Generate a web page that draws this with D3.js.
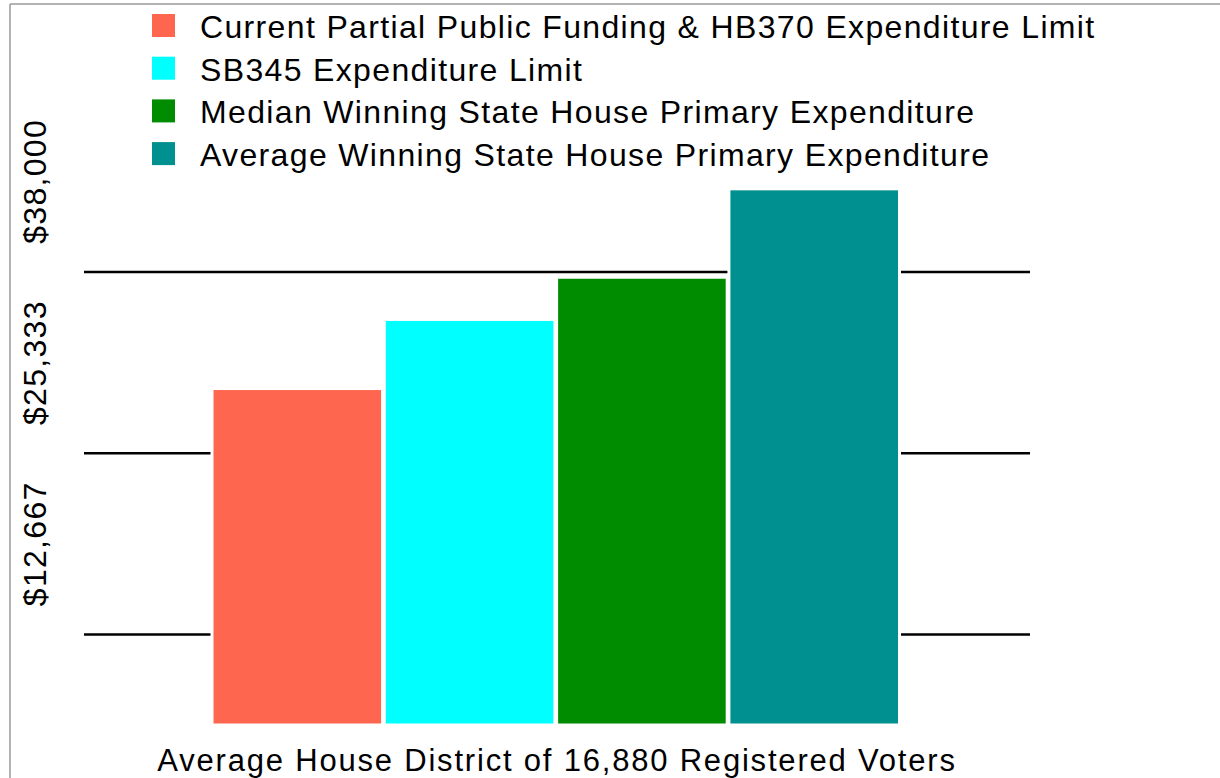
<!DOCTYPE html>
<html>
<head>
<meta charset="utf-8">
<script src="https://cdn.jsdelivr.net/npm/d3@7"></script>
<style>
  body { margin: 0; background: #fff; }
  svg { display: block; font-family: "Liberation Sans", Arial, sans-serif; }
</style>
</head>
<body>
<svg id="chart" width="1220" height="778"></svg>
<script>
// data
var categories = [
  "Current Partial Public Funding & HB370 Expenditure Limit",
  "SB345 Expenditure Limit",
  "Median Winning State House Primary Expenditure",
  "Average Winning State House Primary Expenditure"
];
var values = [23520, 28350, 31300, 37480];
var colors = ["#ff6650", "#00ffff", "#008c00", "#009090"];
var tickValues = [12667, 25333, 38000];
var gridValues = [6333, 19000, 31667];
var xTitle = "Average House District of 16,880 Registered Voters";

var svg = d3.select("#chart");

var x = d3.scaleBand()
    .domain(categories)
    .range([212, 899.5])
    .paddingInner(0.01);

var y = d3.scaleLinear()
    .domain([0, 38000])
    .range([725, 181.4]);

var fmt = d3.format("$,.0f");

// frame
svg.append("line")
    .attr("x1", 10).attr("x2", 10).attr("y1", 4).attr("y2", 778)
    .attr("stroke", "#9a9a9a").attr("stroke-width", 1.5);
svg.append("line")
    .attr("x1", 10).attr("x2", 1220).attr("y1", 4).attr("y2", 4)
    .attr("stroke", "#9a9a9a").attr("stroke-width", 1.5);

// grid lines (behind bars)
svg.append("g").selectAll("line")
    .data(gridValues)
    .join("line")
    .attr("x1", 84).attr("x2", 1030)
    .attr("y1", function(d) { return y(d); })
    .attr("y2", function(d) { return y(d); })
    .attr("stroke", "#000").attr("stroke-width", 2.5);

// bars
svg.append("g").selectAll("rect")
    .data(values)
    .join("rect")
    .attr("x", function(d, i) { return x(categories[i]); })
    .attr("width", x.bandwidth())
    .attr("y", function(d) { return y(d); })
    .attr("height", function(d) { return y(0) - y(d); })
    .attr("fill", function(d, i) { return colors[i]; })
    .attr("stroke", "#fff").attr("stroke-width", 3);

// y tick labels, rotated
svg.append("g").selectAll("text")
    .data(tickValues)
    .join("text")
    .attr("transform", function(d) { return "translate(46," + y(d) + ") rotate(-90)"; })
    .attr("text-anchor", "middle")
    .attr("font-size", 32)
    .attr("letter-spacing", 1.3)
    .text(function(d) { return fmt(d); });

// legend
var legend = svg.append("g").selectAll("g")
    .data(categories)
    .join("g")
    .attr("transform", function(d, i) { return "translate(152," + (38 + i * 42.7) + ")"; });
legend.append("rect")
    .attr("x", 0).attr("y", -24).attr("width", 23).attr("height", 23)
    .attr("fill", function(d, i) { return colors[i]; });
legend.append("text")
    .attr("x", 48).attr("y", 0)
    .attr("font-size", 32)
    .attr("letter-spacing", 1.35)
    .text(function(d) { return d; });

// x title
svg.append("text")
    .attr("x", 557).attr("y", 771)
    .attr("text-anchor", "middle")
    .attr("font-size", 31)
    .attr("letter-spacing", 1.8)
    .text(xTitle);
</script>
</body>
</html>
